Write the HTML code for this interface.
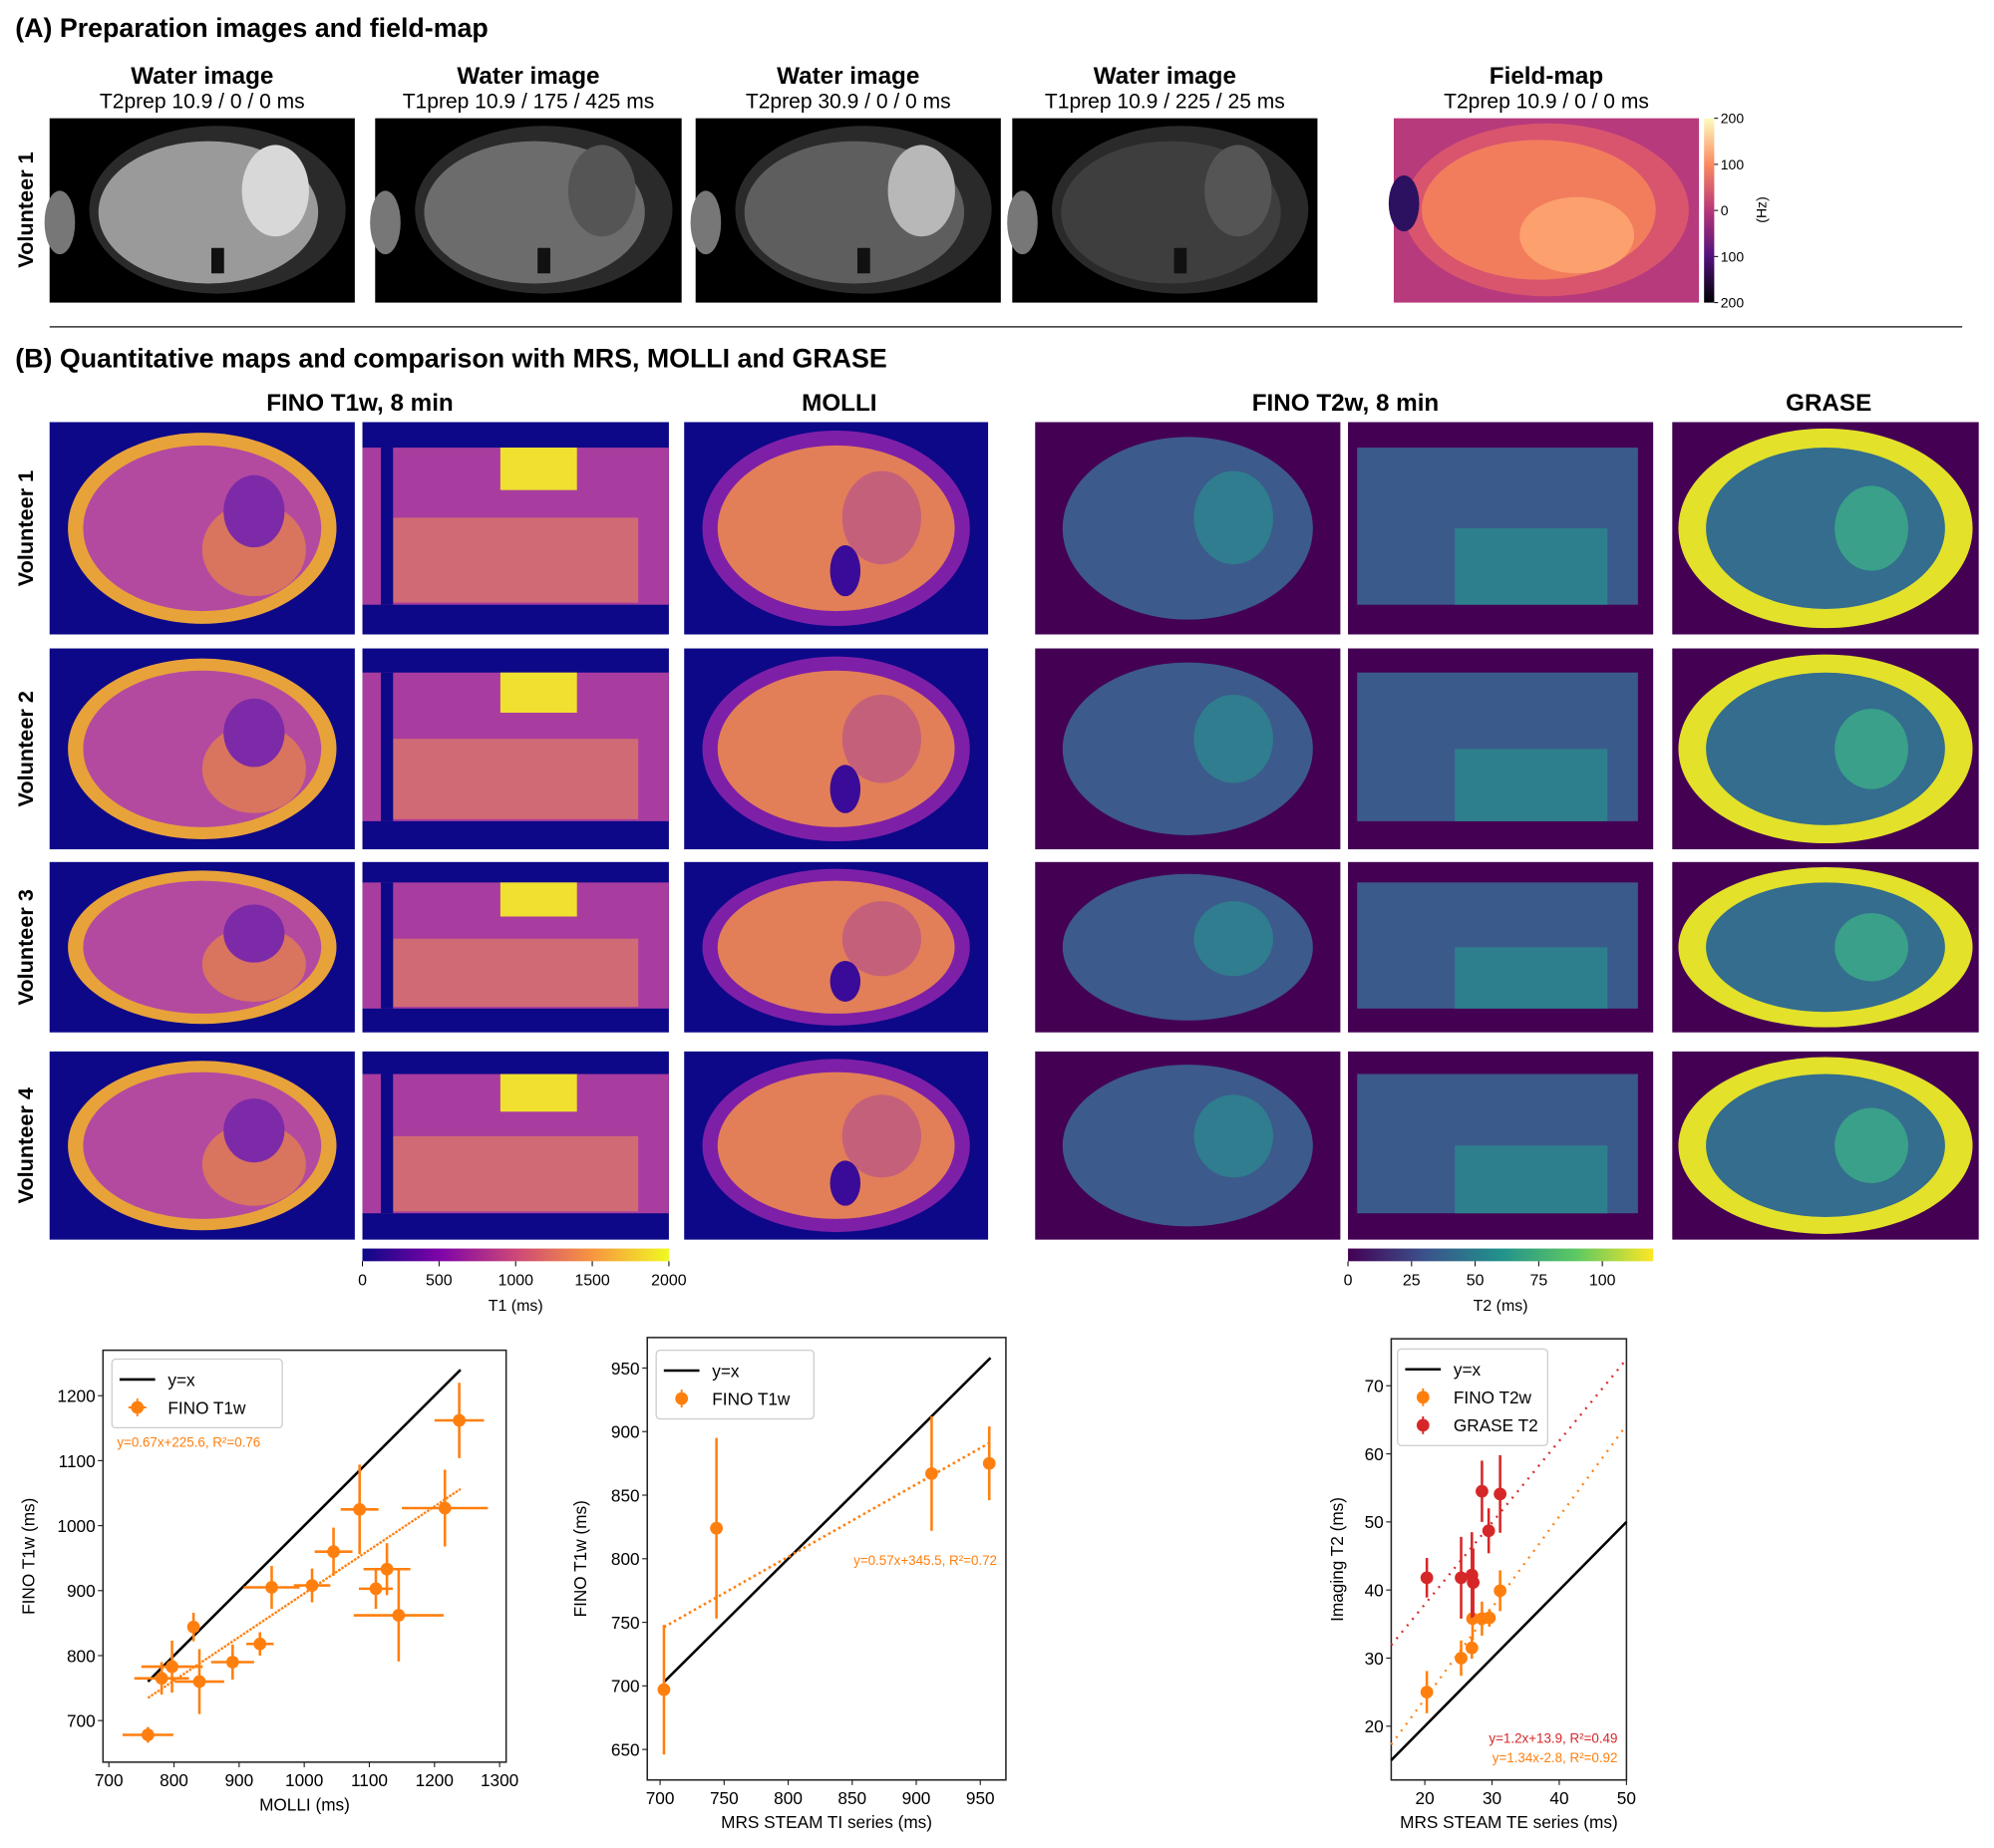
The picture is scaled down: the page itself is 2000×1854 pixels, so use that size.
<!DOCTYPE html>
<html><head><meta charset="utf-8">
<style>
html,body{margin:0;padding:0;background:#fff;}
svg{display:block;font-family:"Liberation Sans",Arial,sans-serif;}
</style></head>
<body>
<svg id="fig" xmlns="http://www.w3.org/2000/svg" width="2000" height="1854" viewBox="0 0 1568 1453.5">
<defs>
<linearGradient id="plasma" x1="0" x2="1" y1="0" y2="0">
<stop offset="0" stop-color="#0d0887"/><stop offset="0.25" stop-color="#7e03a8"/><stop offset="0.5" stop-color="#cc4778"/><stop offset="0.75" stop-color="#f89540"/><stop offset="1" stop-color="#f0f921"/>
</linearGradient>
<linearGradient id="viridis" x1="0" x2="1" y1="0" y2="0">
<stop offset="0" stop-color="#440154"/><stop offset="0.25" stop-color="#3b528b"/><stop offset="0.5" stop-color="#21918c"/><stop offset="0.75" stop-color="#5ec962"/><stop offset="1" stop-color="#fde725"/>
</linearGradient>
<linearGradient id="magma" x1="0" x2="0" y1="1" y2="0">
<stop offset="0" stop-color="#000004"/><stop offset="0.25" stop-color="#51127c"/><stop offset="0.5" stop-color="#b73779"/><stop offset="0.75" stop-color="#fc8961"/><stop offset="1" stop-color="#fcfdbf"/>
</linearGradient>
</defs>
<g id="content"></g>
</svg>
<script>
// ---- chart data ----
const t1Molli = [760,781,797,830,839,890,932,950,1012,1045,1085,1110,1127,1145,1216,1238];
const t1MolliErr = [39,42,47,5,38,33,21,43,28,29,29,26,36,69,66,38];
const t1Fino = [678,765,783,844,760,790,818,905,908,960,1025,903,933,862,1027,1162];
const t1FinoErr = [12,25,40,22,50,27,18,33,26,37,69,31,40,71,59,58];
const t1XTicks = [700,800,900,1000,1100,1200,1300];
const t1YTicks = [700,800,900,1000,1100,1200];
const t1Fit = [0.67,225.6];

const tiMrs = [703,744,912,957];
const tiFino = [697,824,867,875];
const tiFinoErr = [51,71,45,29];
const tiXTicks = [700,750,800,850,900,950];
const tiYTicks = [650,700,750,800,850,900,950];
const tiFit = [0.57,345.5];

const teMrs = [20.3,25.4,27,27.1,28.5,29.6,31.2];
const teFino = [25.0,30.0,31.5,35.8,35.8,35.9,39.9];
const teFinoErr = [3.1,2.6,1.6,3.2,2.5,1.3,3.0];
const teMrsG = [20.3,25.4,27,27.2,28.5,29.5,31.2];
const teGrase = [41.8,41.8,42.2,41.1,54.5,48.7,54.1];
const teGraseErr = [2.9,6.0,6.3,5.0,4.5,3.3,5.7];
const teXTicks = [20,30,40,50];
const teYTicks = [20,30,40,50,60,70];
const teFitFino = [1.34,-2.8];
const teFitGrase = [1.2,13.9];

const NS = "http://www.w3.org/2000/svg";
const root = document.getElementById('content');
function el(tag, attrs, parent, text){
  const e = document.createElementNS(NS, tag);
  for (const k in attrs) e.setAttribute(k, attrs[k]);
  if (text !== undefined) e.textContent = text;
  (parent||root).appendChild(e);
  return e;
}
function txt(x,y,s,size,opts,parent){
  opts = opts||{};
  const a = {x:x,y:y,'font-size':size,fill:opts.fill||'#000','text-anchor':opts.anchor||'middle'};
  if (opts.bold) a['font-weight']='bold';
  if (opts.rot) a.transform='rotate(-90 '+x+' '+y+')';
  return el('text',a,parent,s);
}

// ---- section titles ----
let t = txt(12,29,'(A) Preparation images and field-map',21,{anchor:'start',bold:true});


t = txt(12,289,'(B) Quantitative maps and comparison with MRS, MOLLI and GRASE',21,{anchor:'start',bold:true});


let ln = el('line',{x1:39,y1:257,x2:1543,y2:257,stroke:'#333','stroke-width':1.2});



// ---- row A ----
const aCols = [[39,279],[295,536],[547,787],[796,1036]];
const aSubs = ['T2prep 10.9 / 0 / 0 ms','T1prep 10.9 / 175 / 425 ms','T2prep 30.9 / 0 / 0 ms','T1prep 10.9 / 225 / 25 ms'];
const aGray = ['#9a9a9a','#6c6c6c','#5e5e5e','#3e3e3e'];
aCols.forEach((c,i)=>{
  const g = el('g',{});
  
  
  const w=c[1]-c[0];
  el('rect',{x:c[0],y:93,width:w,height:145,fill:'#000'},g);
  el('ellipse',{cx:c[0]+w*0.55,cy:165,rx:w*0.42,ry:66,fill:'#2a2a2a'},g);
  el('ellipse',{cx:c[0]+w*0.52,cy:167,rx:w*0.36,ry:56,fill:aGray[i]},g);
  el('ellipse',{cx:c[0]+w*0.74,cy:150,rx:w*0.11,ry:36,fill:i==0?'#d8d8d8':(i==2?'#b8b8b8':'#555')},g);
  el('ellipse',{cx:c[0]+8,cy:175,rx:12,ry:25,fill:'#777'},g);
  el('rect',{x:c[0]+w*0.53,y:195,width:10,height:20,fill:'#111'},g);
  let h = txt((c[0]+c[1])/2,66,'Water image',19,{bold:true});
  
  
  h = txt((c[0]+c[1])/2,85,aSubs[i],16.5);
  
  
});
{
  const g = el('g',{});
  
  
  el('rect',{x:1096,y:93,width:240,height:145,fill:'#b73a7c'},g);
  el('ellipse',{cx:1216,cy:165,rx:112,ry:68,fill:'#d9556e'},g);
  el('ellipse',{cx:1210,cy:165,rx:92,ry:55,fill:'#f27d5d'},g);
  el('ellipse',{cx:1240,cy:185,rx:45,ry:30,fill:'#fca06e'},g);
  el('ellipse',{cx:1104,cy:160,rx:12,ry:22,fill:'#2b1160'},g);
  let h = txt(1216,66,'Field-map',19,{bold:true});
  
  
  h = txt(1216,85,'T2prep 10.9 / 0 / 0 ms',16.5);
  
  
  const cb = el('rect',{x:1340,y:93,width:8,height:145,fill:'url(#magma)'});
  
  
  ['200','100','0','100','200'].forEach((s,k)=>{
    const y=93+k*145/4;
    el('line',{x1:1348,y1:y,x2:1351,y2:y,stroke:'#000','stroke-width':0.8});
    const tt = txt(1353,y+4,s,11,{anchor:'start'});
    
    
  });
  const hz = txt(1389,165,'(Hz)',11,{rot:true});
  
  
}
t = txt(26,165,'Volunteer 1',17,{bold:true,rot:true});



// ---- maps (B) ----
const colTitles = [['FINO T1w, 8 min',283],['MOLLI',660],['FINO T2w, 8 min',1058],['GRASE',1438]];
colTitles.forEach(c=>{
  const h = txt(c[1],323,c[0],19,{bold:true});
  
  
});
const mCols = [[39,279],[285,526],[538,777],[814,1054],[1060,1300],[1315,1556]];
const mRows = [[332,499],[510,668],[678,812],[827,975]];
const kinds = ['t1ax','t1cor','molli','t2ax','t2cor','grase'];
mRows.forEach((r,ri)=>{
  const lab = txt(26,(r[0]+r[1])/2,'Volunteer '+(ri+1),17,{bold:true,rot:true});
  
  
  mCols.forEach((c,ci)=>{
    const k = kinds[ci];
    const g = el('g',{});
    
    
    const x=c[0], y=r[0], w=c[1]-c[0], h=r[1]-r[0], cx=x+w/2, cy=y+h/2;
    if (k==='t1ax'){
      el('rect',{x:x,y:y,width:w,height:h,fill:'#0d0887'},g);
      el('ellipse',{cx:cx,cy:cy,rx:w*0.44,ry:h*0.45,fill:'#e8a23a'},g);
      el('ellipse',{cx:cx,cy:cy,rx:w*0.39,ry:h*0.39,fill:'#b34aa0'},g);
      el('ellipse',{cx:cx+w*0.17,cy:cy+h*0.1,rx:w*0.17,ry:h*0.22,fill:'#d9745f'},g);
      el('ellipse',{cx:cx+w*0.17,cy:cy-h*0.08,rx:w*0.1,ry:h*0.17,fill:'#7d2aa8'},g);
    } else if (k==='t1cor'){
      el('rect',{x:x,y:y,width:w,height:h,fill:'#0d0887'},g);
      el('rect',{x:x,y:y+h*0.12,width:w,height:h*0.74,fill:'#a83c9f'},g);
      el('rect',{x:x+w*0.1,y:y+h*0.45,width:w*0.8,height:h*0.4,fill:'#d06a75'},g);
      el('rect',{x:x+w*0.45,y:y+h*0.12,width:w*0.25,height:h*0.2,fill:'#f0e030'},g);
      el('rect',{x:x+w*0.06,y:y+h*0.12,width:w*0.04,height:h*0.74,fill:'#0d0887'},g);
    } else if (k==='molli'){
      el('rect',{x:x,y:y,width:w,height:h,fill:'#0d0887'},g);
      el('ellipse',{cx:cx,cy:cy,rx:w*0.44,ry:h*0.46,fill:'#7e1fa8'},g);
      el('ellipse',{cx:cx,cy:cy,rx:w*0.39,ry:h*0.39,fill:'#e27f58'},g);
      el('ellipse',{cx:cx+w*0.15,cy:cy-h*0.05,rx:w*0.13,ry:h*0.22,fill:'#c5607b'},g);
      el('ellipse',{cx:cx+w*0.03,cy:cy+h*0.2,rx:w*0.05,ry:h*0.12,fill:'#3a0a99'},g);
    } else if (k==='t2ax'){
      el('rect',{x:x,y:y,width:w,height:h,fill:'#440154'},g);
      el('ellipse',{cx:cx,cy:cy,rx:w*0.41,ry:h*0.43,fill:'#3c5a8c'},g);
      el('ellipse',{cx:cx+w*0.15,cy:cy-h*0.05,rx:w*0.13,ry:h*0.22,fill:'#2f7d8e'},g);
    } else if (k==='t2cor'){
      el('rect',{x:x,y:y,width:w,height:h,fill:'#440154'},g);
      el('rect',{x:x+w*0.03,y:y+h*0.12,width:w*0.92,height:h*0.74,fill:'#3b5a8c'},g);
      el('rect',{x:x+w*0.35,y:y+h*0.5,width:w*0.5,height:h*0.36,fill:'#2e7f8d'},g);
    } else {
      el('rect',{x:x,y:y,width:w,height:h,fill:'#440154'},g);
      el('ellipse',{cx:cx,cy:cy,rx:w*0.48,ry:h*0.47,fill:'#e3e12a'},g);
      el('ellipse',{cx:cx,cy:cy,rx:w*0.39,ry:h*0.38,fill:'#346d8e'},g);
      el('ellipse',{cx:cx+w*0.15,cy:cy,rx:w*0.12,ry:h*0.2,fill:'#3aa089'},g);
    }
  });
});
// colorbars
function colorbar(x0,x1,grad,ticks,vmax,label,name){
  const r = el('rect',{x:x0,y:982,width:x1-x0,height:10,fill:'url(#'+grad+')'});
  
  
  ticks.forEach(v=>{
    const x = x0+(x1-x0)*v/vmax;
    el('line',{x1:x,y1:992,x2:x,y2:996,stroke:'#000','stroke-width':0.8});
    const tt = txt(x,1011,String(v),12.5);
    
    
  });
  const l = txt((x0+x1)/2,1031,label,12.5);
  
  
}
colorbar(285,526,'plasma',[0,500,1000,1500,2000],2000,'T1 (ms)','t1-colorbar');
colorbar(1060,1300,'viridis',[0,25,50,75,100],120,'T2 (ms)','t2-colorbar');

// ---- scatter plots ----
function axes(b,dom,xt,yt,xlab,ylab,name){
  const sx = v=> b.l+(v-dom.x0)/(dom.x1-dom.x0)*(b.r-b.l);
  const sy = v=> b.b-(v-dom.y0)/(dom.y1-dom.y0)*(b.b-b.t);
  const g = el('g',{});
  
  
  el('rect',{x:b.l,y:b.t,width:b.r-b.l,height:b.b-b.t,fill:'none',stroke:'#222','stroke-width':1.2},g);
  xt.forEach(v=>{
    el('line',{x1:sx(v),y1:b.b,x2:sx(v),y2:b.b+4,stroke:'#222','stroke-width':0.9},g);
    const tt = txt(sx(v),b.b+19,String(v),13.5,{},g);
    
    
  });
  yt.forEach(v=>{
    el('line',{x1:b.l-4,y1:sy(v),x2:b.l,y2:sy(v),stroke:'#222','stroke-width':0.9},g);
    const tt = txt(b.l-6,sy(v)+5,String(v),13.5,{anchor:'end'},g);
    
    
  });
  const xl = txt((b.l+b.r)/2,b.b+38,xlab,13.5,{},g);
  
  
  const yl = txt(b.yl,(b.t+b.b)/2,ylab,13.5,{rot:true},g);
  
  
  return {sx,sy,g};
}
function line(a,x0,x1,m,c,color,dash,w,name){
  const l = el('line',{x1:a.sx(x0),y1:a.sy(m*x0+c),x2:a.sx(x1),y2:a.sy(m*x1+c),stroke:color,'stroke-width':w||2,'stroke-dasharray':dash||'none'},a.g);
  
  
}
function points(a,xs,ys,xe,ye,color,name){
  xs.forEach((x,i)=>{
    const y=ys[i];
    if (xe){
      const e = el('line',{x1:a.sx(x-xe[i]),y1:a.sy(y),x2:a.sx(x+xe[i]),y2:a.sy(y),stroke:color,'stroke-width':2},a.g);
      
      
    }
    const e2 = el('line',{x1:a.sx(x),y1:a.sy(y-ye[i]),x2:a.sx(x),y2:a.sy(y+ye[i]),stroke:color,'stroke-width':2},a.g);
    
    
    const c = el('circle',{cx:a.sx(x),cy:a.sy(y),r:5,fill:color},a.g);
    
    
  });
}
function legend(a,x,y,w,entries){
  const g = el('g',{},a.g);
  
  
  el('rect',{x:x,y:y,width:w,height:10+entries.length*22,fill:'#fff',stroke:'#ccc','stroke-width':1,rx:3},g);
  entries.forEach((en,i)=>{
    const yy=y+16+i*22;
    if (en[2]==='line') el('line',{x1:x+6,y1:yy,x2:x+34,y2:yy,stroke:en[1],'stroke-width':2},g);
    else {
      el('line',{x1:x+20,y1:yy-7,x2:x+20,y2:yy+7,stroke:en[1],'stroke-width':1.5},g);
      if (en[2]==='xy') el('line',{x1:x+13,y1:yy,x2:x+27,y2:yy,stroke:en[1],'stroke-width':1.5},g);
      el('circle',{cx:x+20,cy:yy,r:5,fill:en[1]},g);
    }
    const tt = txt(x+44,yy+5,en[0],13.5,{anchor:'start'},g);
    
    
  });
}
const OR='#ff7f0e', RD='#d62728';

// Plot 1
const a1 = axes({l:81,r:398,t:1062,b:1386,yl:27},{x0:691,x1:1310,y0:636,y1:1270},t1XTicks,t1YTicks,'MOLLI (ms)','FINO T1w (ms)','plot-fino-vs-molli');
line(a1,760,1240,1,0,'#000',null,2,'identity-line');
line(a1,760,1240,t1Fit[0],t1Fit[1],OR,'2,1',1.8,'fit-line');
points(a1,t1Molli,t1Fino,t1MolliErr,t1FinoErr,OR,'fino-t1w');
legend(a1,88,1069,134,[['y=x','#000','line'],['FINO T1w',OR,'xy']]);
t = txt(92,1138,'y=0.67x+225.6, R²=0.76',10.5,{anchor:'start',fill:OR},a1.g);



// Plot 2
const a2 = axes({l:509,r:791,t:1052,b:1400,yl:461},{x0:690,x1:970,y0:626,y1:974},tiXTicks,tiYTicks,'MRS STEAM TI series (ms)','FINO T1w (ms)','plot-fino-vs-mrs-ti');
line(a2,703,958,1,0,'#000',null,2,'identity-line');
line(a2,703,958,tiFit[0],tiFit[1],OR,'2,2.5',2,'fit-line');
points(a2,tiMrs,tiFino,null,tiFinoErr,OR,'fino-t1w');
legend(a2,516,1062,124,[['y=x','#000','line'],['FINO T1w',OR,'pt']]);
t = txt(784,1231,'y=0.57x+345.5, R²=0.72',10.5,{anchor:'end',fill:OR},a2.g);



// Plot 3
const a3 = axes({l:1094,r:1279,t:1053,b:1400,yl:1056},{x0:15,x1:50,y0:12.1,y1:76.9},teXTicks,teYTicks,'MRS STEAM TE series (ms)','Imaging T2 (ms)','plot-t2-vs-mrs-te');
line(a3,15,50,1,0,'#000',null,2,'identity-line');
line(a3,15,50,teFitGrase[0],teFitGrase[1],RD,'1.5,5',1.8,'grase-fit-line');
line(a3,15,50,teFitFino[0],teFitFino[1],OR,'1.5,5',1.8,'fino-fit-line');
points(a3,teMrs,teFino,null,teFinoErr,OR,'fino-t2w');
points(a3,teMrsG,teGrase,null,teGraseErr,RD,'grase-t2');
legend(a3,1099,1061,118,[['y=x','#000','line'],['FINO T2w',OR,'pt'],['GRASE T2',RD,'pt']]);
t = txt(1272,1371,'y=1.2x+13.9, R²=0.49',10.5,{anchor:'end',fill:RD},a3.g);


t = txt(1272,1386,'y=1.34x-2.8, R²=0.92',10.5,{anchor:'end',fill:OR},a3.g);


</script>
</body></html>
